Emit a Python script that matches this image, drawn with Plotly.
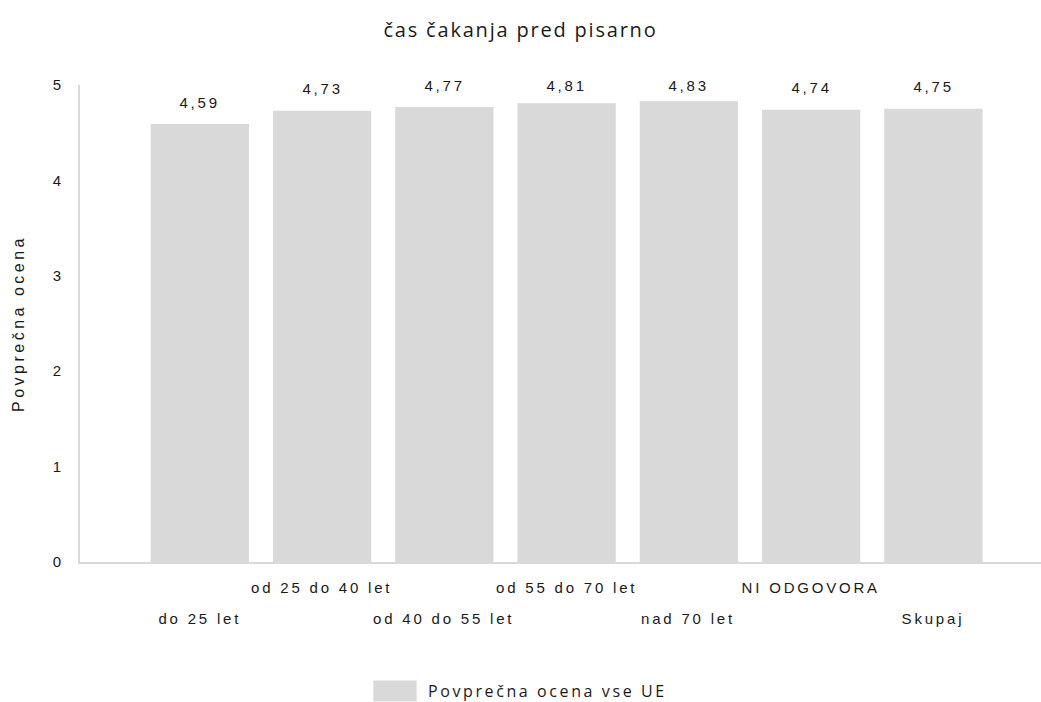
import plotly.graph_objects as go

# ---- data ----
categories = ["do 25 let", "od 25 do 40 let", "od 40 do 55 let", "od 55 do 70 let",
              "nad 70 let", "NI ODGOVORA", "Skupaj"]
values = [4.59, 4.73, 4.77, 4.81, 4.83, 4.74, 4.75]
series_name = "Povprečna ocena vse UE"
chart_title = "čas čakanja pred pisarno"
y_axis_title = "Povprečna ocena"
y_tick_values = [0, 1, 2, 3, 4, 5]

# ---- style ----
BAR = "#d9d9d9"
AXIS = "#d9d9d9"
TXT = "#1a1a1a"
TICK_FONT = dict(family="Liberation Sans, Arial, sans-serif", size=15, color=TXT)
YTITLE_FONT = dict(family="Liberation Sans, Arial, sans-serif", size=16, color=TXT)
UI_FONT = "Open Sans, Noto Sans, sans-serif"

x_idx = list(range(len(categories)))

fig = go.Figure()
fig.add_trace(go.Bar(
    x=x_idx, y=values, name=series_name,
    marker=dict(color=BAR, line=dict(width=0)),
    showlegend=True, hoverinfo="skip",
))

annotations = []
# value labels above bars (kept inside the plot top)
for i, v in enumerate(values):
    annotations.append(dict(
        x=i, y=min(v + 0.23, 5.0), xref="x", yref="y",
        text=f"{v:.2f}".replace(".", ","), showarrow=False,
        font=TICK_FONT, xanchor="center", yanchor="middle",
    ))
# staggered category labels
for i, c in enumerate(categories):
    annotations.append(dict(
        x=i, y=0, xref="x", yref="paper",
        text=c, showarrow=False, font=TICK_FONT,
        xanchor="center", yanchor="middle",
        yshift=-25 if i % 2 == 1 else -56,
    ))

fig.update_layout(
    width=1041, height=702,
    margin=dict(l=80, r=0, t=85, b=140),
    paper_bgcolor="white", plot_bgcolor="white",
    bargap=0.196,
    title=dict(text=chart_title, x=0.5, xanchor="center", xref="container",
               y=1 - 30 / 702, yanchor="middle", yref="container",
               font=dict(family=UI_FONT, size=20, color=TXT)),
    xaxis=dict(range=[-0.98, 6.88], showticklabels=False, ticks="",
               showline=True, linecolor=AXIS, linewidth=2,
               showgrid=False, zeroline=False, fixedrange=True),
    yaxis=dict(range=[0, 5], tickvals=y_tick_values, ticks="",
               tickfont=TICK_FONT, ticklabelstandoff=14,
               showline=True, linecolor=AXIS, linewidth=2,
               showgrid=False, zeroline=False,
               title=dict(text=y_axis_title, font=YTITLE_FONT, standoff=24)),
    legend=dict(orientation="h", xref="container", x=388 / 1041, xanchor="left",
                yref="container", y=1 - 691 / 702, yanchor="middle",
                itemwidth=30,
                font=dict(family=UI_FONT, size=16, color=TXT)),
    annotations=annotations,
    showlegend=True,
)

css = """
body { margin: 0; }
.annotation-text { letter-spacing: 2.8px; }
.ytitle { letter-spacing: 3.5px; }
.legendtext { letter-spacing: 2.6px; }
.gtitle { letter-spacing: 1.8px; }
.legend .scrollbox, .legend g { clip-path: none !important; }
.legendpoints path { transform: translateX(7px) scale(3.6, 1.75); }
"""
post = ("var s=document.createElement('style');s.innerHTML=" + repr(css.replace("\n", " "))
        + ";document.head.appendChild(s);")

fig.write_html("out.html", post_script=post, config={"displayModeBar": False})
